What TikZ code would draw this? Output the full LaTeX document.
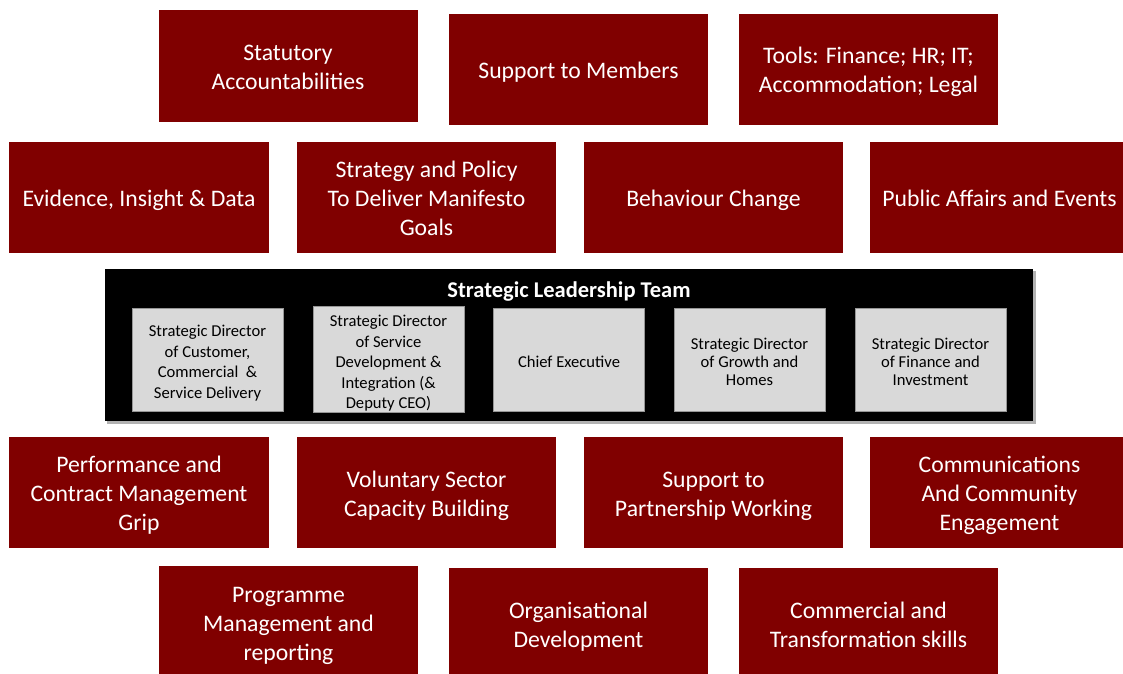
\documentclass[tikz,border=0pt]{standalone}
\usepackage{fontspec}
\setmainfont{Carlito}
\definecolor{boxred}{RGB}{128,0,0}
\definecolor{innergray}{RGB}{217,217,217}
\definecolor{innerline}{RGB}{150,150,150}
\newcommand\ts{\rule{0pt}{24.5pt}}
\newcommand\gts{\rule{0pt}{20.3pt}}
\newcommand\bs{\rule[-0.25em]{0pt}{0.25em}}
\begin{document}
\begin{tikzpicture}[x=1pt,y=-1pt,
  redbox/.style={rectangle, fill=boxred, text=white, align=center, inner sep=0pt,
    minimum width=259, minimum height=111, font=\fontsize{23.7}{29}\selectfont},
  graybox/.style={rectangle, fill=innergray, draw=innerline, line width=0.6pt, text=black,
    align=center, inner sep=0pt, minimum width=151, minimum height=103,
    font=\fontsize{16.6}{20.5}\selectfont},
  tightgray/.style={graybox, font=\fontsize{16.6}{18}\selectfont},
  sltframe/.style={rectangle, fill=black, inner sep=0pt, minimum width=928, minimum height=152},
  slttitle/.style={text=white, inner sep=0pt, font=\fontsize{22.5}{27}\selectfont\bfseries}
]
\useasboundingbox (0,0) rectangle (1123,673);
\clip (0,0) rectangle (1123,673);
% row 1
\node[redbox, minimum height=112] (stat) at (288,66) {\ts Statutory\\Accountabilities\bs};
\node[redbox] (members) at (578.5,69) {\ts Support to Members\bs};
\node[redbox] (tools) at (868.5,69) {\ts Tools: Finance; HR; IT;\\Accommodation; Legal\bs};
% row 2
\node[redbox, minimum width=260] (evid) at (139,197.5) {\ts Evidence, Insight \& Data\bs};
\node[redbox] (strat) at (426.5,197.5) {\ts Strategy and Policy\\To Deliver Manifesto\\Goals\bs};
\node[redbox] (behav) at (713.5,197.5) {\ts Behaviour Change\bs};
\node[redbox] (public) at (999.5,197.5) {\ts Public Affairs and Events\bs};
% leadership team
\fill[black!30] (107,271) rectangle (1036,424);
\node[sltframe] (slt) at (569,345) {};
\node[slttitle] (title) at (569,292) {Strategic Leadership Team};
\node[graybox] (d1) at (207.5,359.5) {\gts Strategic Director\\of Customer,\\Commercial~ \&\\Service Delivery\bs};
\node[graybox] (d2) at (388.5,359.5) {\gts Strategic Director\\of Service\\Development \&\\Integration (\&\\Deputy CEO)\bs};
\node[graybox] (ceo) at (569,359.5) {\gts Chief Executive\bs};
\node[tightgray] (d3) at (749.5,359.5) {\gts Strategic Director\\of Growth and\\Homes\bs};
\node[tightgray] (d4) at (930.5,359.5) {\gts Strategic Director\\of Finance and\\Investment\bs};
% row 3
\node[redbox, minimum width=260] (perf) at (139,492.5) {\ts Performance and\\Contract Management\\Grip\bs};
\node[redbox] (vol) at (426.5,492.5) {\ts Voluntary Sector\\Capacity Building\bs};
\node[redbox] (partner) at (713.5,492.5) {\ts Support to\\Partnership Working\bs};
\node[redbox] (comms) at (999.5,492.5) {\ts Communications\\And Community\\Engagement\bs};
% row 4
\node[redbox, minimum height=112] (prog) at (288.5,622) {\ts Programme\\Management and\\reporting\bs};
\node[redbox, minimum height=112] (orgdev) at (578.5,624) {\ts Organisational\\Development\bs};
\node[redbox, minimum height=112] (commerc) at (868.5,624) {\ts Commercial and\\Transformation skills\bs};
\end{tikzpicture}
\end{document}
